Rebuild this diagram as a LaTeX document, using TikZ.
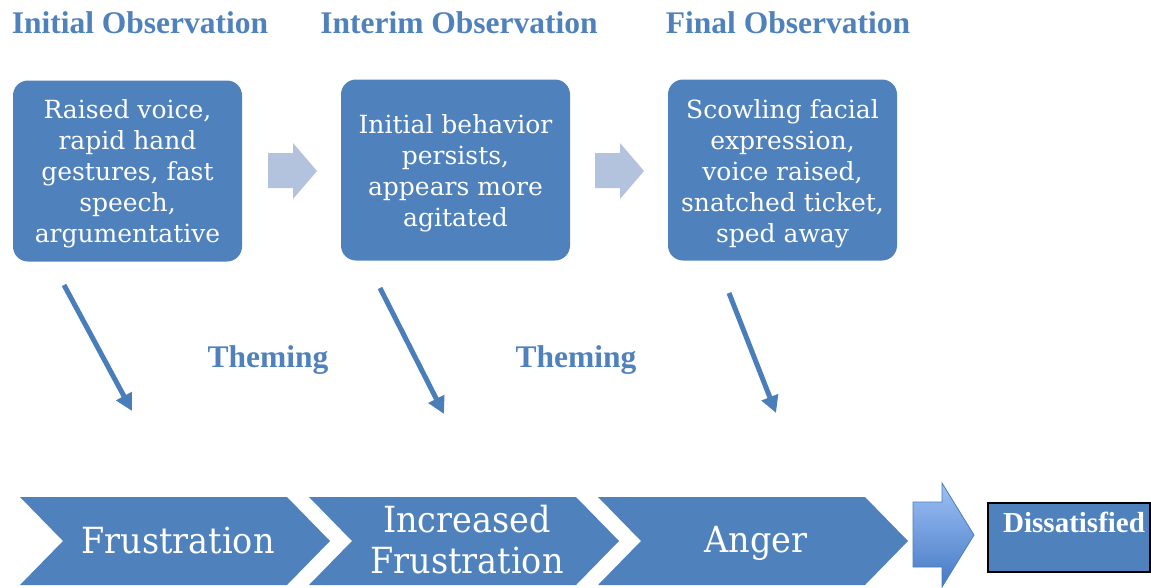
\documentclass[tikz,border=0pt]{standalone}
\usepackage{fontspec}
\setmainfont{Liberation Serif}
\newfontfamily\boxfont{DejaVu Serif}
\newfontfamily\chevfont[FakeStretch=0.93]{DejaVu Serif}
\usetikzlibrary{arrows.meta}
\definecolor{mainblue}{HTML}{4F81BD}
\definecolor{lightarr}{HTML}{B3C3DE}
\definecolor{downarr}{HTML}{4A7EBB}
\definecolor{gradtop}{HTML}{9EC0F5}
\definecolor{gradbot}{HTML}{4479C4}
\begin{document}
\begin{tikzpicture}[x=1pt,y=-1pt,
  titletext/.style={text=mainblue,font=\fontsize{31.5}{36}\selectfont\bfseries,anchor=base,inner sep=0pt},
  obsbox/.style={fill=mainblue,rounded corners=15pt,minimum width=229pt,minimum height=181pt,inner sep=0pt},
  obstext/.style={text=white,align=center,font=\boxfont\fontsize{25}{31}\selectfont,inner sep=0pt},
  lightarrow/.style={fill=lightarr},
  downarrow/.style={draw=downarr,line width=5pt,-{Triangle[length=17pt,width=17pt]}},
  chevshape/.style={fill=mainblue},
  chevtext/.style={text=white,align=center,font=\chevfont\fontsize{36}{41}\selectfont,inner sep=0pt},
  bigarrow/.style={draw=downarr,line width=0.8pt,top color=gradtop,bottom color=gradbot},
  endbox/.style={fill=mainblue,draw=black,line width=2pt}
]
\useasboundingbox (0,0) rectangle (1151,587);

% titles
\node[titletext] (t1) at (140,33) {Initial Observation};
\node[titletext] (t2) at (459,33) {Interim Observation};
\node[titletext] (t3) at (788,33) {Final Observation};

% observation boxes
\node[obsbox] (b1) at (127.5,171) {};
\node[obsbox] (b2) at (455.5,170) {};
\node[obsbox] (b3) at (782.5,170) {};
\node[obstext] (b1t) at (127.5,174) {Raised voice,\\rapid hand\\gestures, fast\\speech,\\argumentative};
\node[obstext] (b2t) at (455.5,173) {Initial behavior\\persists,\\appears more\\agitated};
\node[obstext] (b3t) at (782.5,174) {Scowling facial\\expression,\\voice raised,\\snatched ticket,\\sped away};

% light arrows between boxes
\path[lightarrow] (268,153) -- (293,153) -- (293,143) -- (317,171) -- (293,199) -- (293,188) -- (268,188) -- cycle;
\path[lightarrow] (595,153) -- (620,153) -- (620,143) -- (644,171) -- (620,199) -- (620,188) -- (595,188) -- cycle;

% down arrows
\coordinate (d1s) at (64,285);  \coordinate (d1e) at (132,411);
\coordinate (d2s) at (380,288); \coordinate (d2e) at (444,414);
\coordinate (d3s) at (729,293); \coordinate (d3e) at (776,413);
\draw[downarrow] (d1s) -- (d1e);
\draw[downarrow] (d2s) -- (d2e);
\draw[downarrow] (d3s) -- (d3e);

% theming labels
\node[titletext] (th1) at (268,367) {Theming};
\node[titletext] (th2) at (576,367) {Theming};

% chevrons
\foreach \L in {20,309,598}{
  \path[chevshape] (\L,497) -- ++(267,0) -- ++(43,44) -- ++(-43,44) -- ++(-267,0) -- ++(43,-44) -- cycle;
}
\node[chevtext,anchor=base] (c1) at (178,553) {Frustration};
\node[chevtext] (c2) at (467,540) {Increased\\Frustration};
\node[chevtext,anchor=base] (c3) at (756,552) {Anger};

% big gradient arrow
\path[bigarrow] (913,502) -- (942,502) -- (942,483) -- (974,535) -- (942,587) -- (942,567) -- (913,567) -- cycle;

% final box
\path[endbox] (988,503) rectangle (1150,572);
\node[text=white,font=\fontsize{29}{34}\selectfont\bfseries,anchor=base west,inner sep=0pt] (dis) at (1003,532) {Dissatisfied};
\end{tikzpicture}
\end{document}
